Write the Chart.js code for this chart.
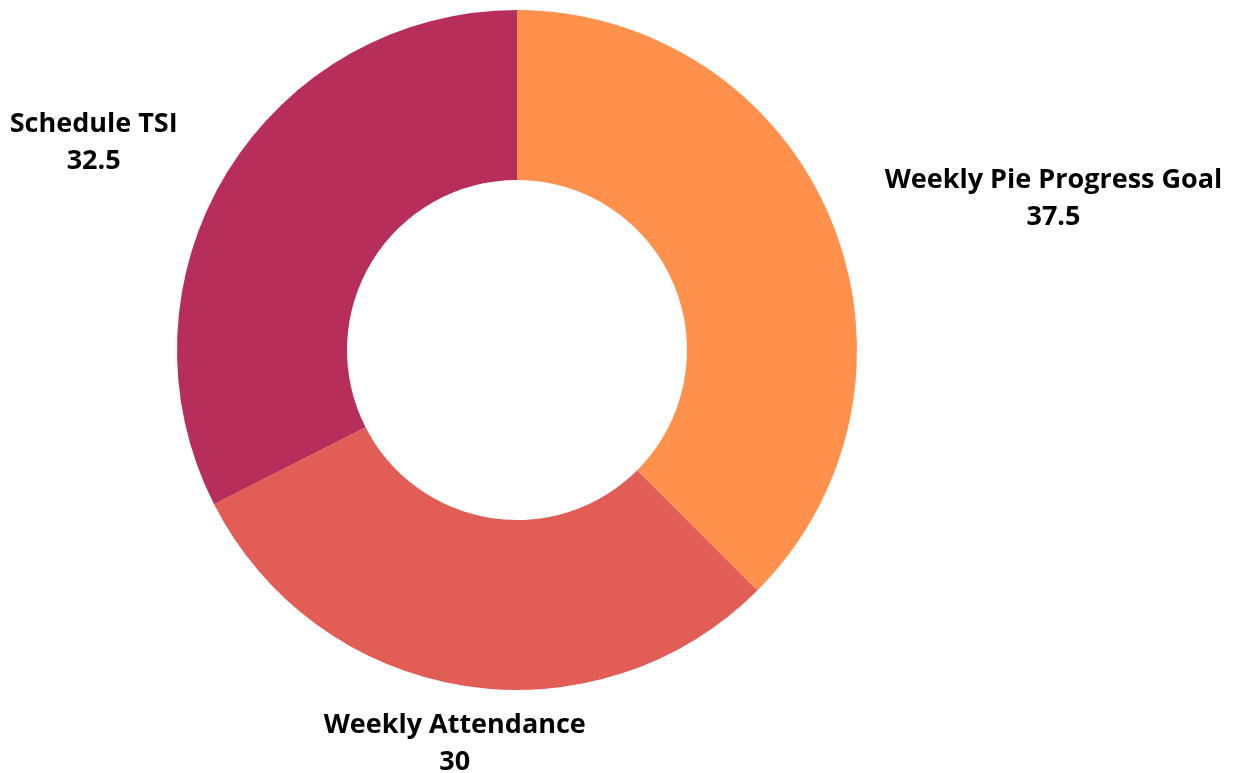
<!DOCTYPE html>
<html>
<head>
<meta charset="utf-8">
<script src="https://cdn.jsdelivr.net/npm/chart.js@4"></script>
<style>
  html, body { margin: 0; padding: 0; background: #fff; }
  #wrap { width: 1238px; height: 773px; }
</style>
</head>
<body>
<div id="wrap"><canvas id="chart"></canvas></div>
<script>
const labels = ['Weekly Pie Progress Goal', 'Weekly Attendance', 'Schedule TSI'];
const values = [37.5, 30, 32.5];
const colors = ['#FF914D', '#E35D57', '#B82E5A'];

// text labels placed outside each slice, along its mid angle
const outsideLabels = {
  id: 'outsideLabels',
  afterDatasetsDraw(chart) {
    const ctx = chart.ctx;
    const meta = chart.getDatasetMeta(0);
    ctx.save();
    ctx.font = 'bold 27px "Open Sans"';
    ctx.fillStyle = '#000';
    ctx.textBaseline = 'middle';
    meta.data.forEach((arc, i) => {
      const p = arc.getProps(['x', 'y', 'startAngle', 'endAngle', 'outerRadius']);
      const mid = (p.startAngle + p.endAngle) / 2;
      const dx = Math.cos(mid), dy = Math.sin(mid);
      const r = p.outerRadius + 58;
      const ax = p.x + r * dx, ay = p.y + r * dy;
      const lines = [labels[i], String(values[i])];
      const w = Math.max(...lines.map(l => ctx.measureText(l).width));
      let cx = ax;
      if (dx > 0.5) cx = ax + w / 2;
      else if (dx < -0.5) cx = ax - w / 2;
      const lh = 37;
      ctx.textAlign = 'center';
      lines.forEach((l, k) => {
        ctx.fillText(l, cx, ay + 1 + (k - (lines.length - 1) / 2) * lh);
      });
    });
    ctx.restore();
  }
};

new Chart(document.getElementById('chart'), {
  type: 'doughnut',
  data: {
    labels: labels,
    datasets: [{
      data: values,
      backgroundColor: colors,
      borderWidth: 0,
      hoverOffset: 0
    }]
  },
  options: {
    responsive: true,
    maintainAspectRatio: false,
    animation: false,
    cutout: '50%',
    layout: { padding: { left: 177, right: 381, top: 10, bottom: 83 } },
    plugins: {
      legend: { display: false },
      tooltip: { enabled: false }
    }
  },
  plugins: [outsideLabels]
});
</script>
</body>
</html>
